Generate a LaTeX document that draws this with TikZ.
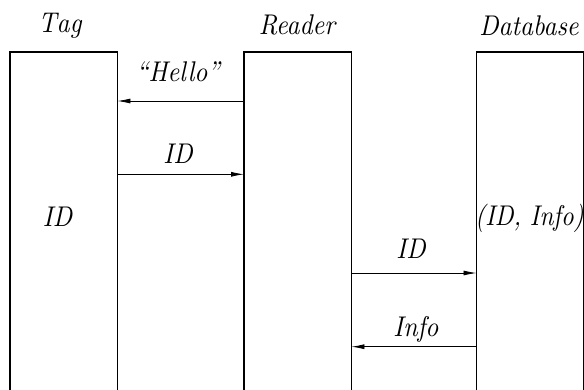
\documentclass[tikz,border=0pt]{standalone}
\usepackage{graphicx}
\usetikzlibrary{arrows.meta}
% narrow italic lettering used for every label: 10pt design, enlarged
\newcommand{\sqtext}[1]{\scalebox{2.55}[2.85]{\fontsize{10}{12}\selectfont\itshape #1}}
\tikzset{
  party/.style={draw=none, anchor=north west, inner sep=0pt,
    minimum width=107pt, minimum height=343pt},
  side/.style={line width=1.6pt, line join=miter},
  msg/.style={line width=0.8pt, -{Latex[length=13pt,width=5pt]}},
  lbl/.style={anchor=base, inner sep=0pt}
}
\begin{document}
\begin{tikzpicture}[x=1pt,y=-1pt]
\useasboundingbox (0,0) rectangle (584,389);

% the three parties, open at the bottom
\node[party] (tag)    at (10,52)    {};
\node[party] (reader) at (244,52)   {};
\node[party] (db)     at (476.5,52) {};
\foreach \p in {tag,reader,db}
  \draw[side] (\p.south west) -- (\p.north west) -- (\p.north east) -- (\p.south east);

% party names
\node[lbl] (tagname)    at (60,32)    {\sqtext{T\kern0pt ag}};
\node[lbl] (readername) at (297,34.5) {\sqtext{Reader}};
\node[lbl] (dbname)     at (529,35)   {\sqtext{Database}};

% stored contents
\node[lbl] (tagid)  at (57.5,226) {\sqtext{ID}};
\node[lbl] (dbinfo) at (529.5,225) {\scalebox{0.97}[1]{\sqtext{(ID, Info)}}};

% message heights
\coordinate (m1) at (0,101);
\coordinate (m2) at (0,174.3);
\coordinate (m3) at (0,273);
\coordinate (m4) at (0,346.7);

% messages
\draw[msg] (reader.west |- m1) -- (tag.east |- m1);
\draw[msg] (tag.east |- m2) -- (reader.west |- m2);
\draw[msg] (reader.east |- m3) -- (db.west |- m3);
\draw[msg] (db.west |- m4) -- (reader.east |- m4);

% message labels
\node[lbl] (hello) at (178,81.5) {\sqtext{“Hello”}};
\node[lbl] (id1)   at (178,163)  {\sqtext{ID}};
\node[lbl] (id2)   at (411,258)  {\sqtext{ID}};
\node[lbl] (info)  at (416,336.5) {\sqtext{Info}};
\end{tikzpicture}
\end{document}
